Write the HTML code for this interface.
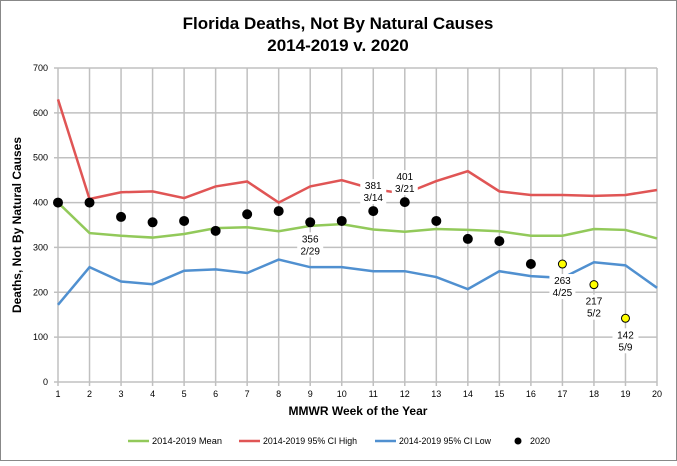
<!DOCTYPE html>
<html><head><meta charset="utf-8"><style>
body{margin:0;background:#fff;font-family:"Liberation Sans",sans-serif}
svg text{font-family:"Liberation Sans",sans-serif}
</style></head><body>
<svg id="c" width="677" height="461">
<rect x="0.5" y="0.5" width="676" height="460" fill="#fff" stroke="#888"/>
<text x="338" y="29" text-anchor="middle" font-size="17" font-weight="bold">Florida Deaths, Not By Natural Causes</text>
<text x="338" y="51" text-anchor="middle" font-size="17" font-weight="bold">2014-2019 v. 2020</text>
<text x="358" y="415" text-anchor="middle" font-size="12" font-weight="bold">MMWR Week of the Year</text>
<text transform="translate(21,225) rotate(-90)" text-anchor="middle" font-size="12" font-weight="bold">Deaths, Not By Natural Causes</text>
<g id="grid"></g><g id="series"></g><g id="legend"></g>
</svg>
<script>
const weeks=[1,2,3,4,5,6,7,8,9,10,11,12,13,14,15,16,17,18,19,20];
const yTicks=[0,100,200,300,400,500,600,700];
const meanVals=[400,332,326,322,330,343,345,336,348,352,340,335,341,339,336,326,326,341,339,320];
const highVals=[630,408,423,425,410,436,447,400,436,450,430,420,448,470,425,417,417,415,417,428];
const lowVals=[172,256,224,218,248,251,243,273,256,256,247,247,234,207,247,236,232,267,260,210];
const vals2020=[400,400,368,356,359,337,374,381,356,359,381,401,359,319,314,263,263,217,142];
const labelWeeks=[9,11,12,17,18,19];
const labelDates=["2/29","3/14","3/21","4/25","5/2","5/9"];
const labelAbove=[false,true,true,false,false,false];
const NS="http://www.w3.org/2000/svg";
const X=w=>58+(w-1)*(657-58)/19;
const Y=v=>382-v*(382-68)/700;
function mk(t,a,p){const e=document.createElementNS(NS,t);for(const k in a)e.setAttribute(k,a[k]);p.appendChild(e);return e;}
const g=document.getElementById('grid'),s=document.getElementById('series'),lg=document.getElementById('legend');
yTicks.forEach(v=>{
 const l=mk('line',{x1:54,x2:657,y1:Y(v),y2:Y(v),stroke:'#c0c0c0','stroke-width':1.5},g);
 
 
 const t=mk('text',{x:48,y:Y(v)+3,'text-anchor':'end','font-size':9},g);t.textContent=v;
 
 
});
weeks.forEach(w=>{
 const l=mk('line',{x1:X(w),x2:X(w),y1:68,y2:386,stroke:'#c0c0c0','stroke-width':1.5},g);
 
 
 const t=mk('text',{x:X(w),y:397,'text-anchor':'middle','font-size':9},g);t.textContent=w;
 
 
});
function line(vals,col,name){
 const p=mk('polyline',{points:vals.map((v,i)=>X(weeks[i])+','+Y(v)).join(' '),fill:'none',stroke:col,'stroke-width':2.5},s);
 
 
}
line(meanVals,'#92c95a','mean-line');
line(highVals,'#e05555','ci-high-line');
line(lowVals,'#5090d0','ci-low-line');
vals2020.forEach((v,i)=>{
 const c=mk('circle',{cx:X(weeks[i]),cy:Y(v),r:i>=16?4:4.5,fill:i>=16?'#ffff00':'#000',stroke:'#000','stroke-width':1},s);
 
 
});
labelWeeks.forEach((w,k)=>{
 const v=vals2020[w-1];const x=X(w);
 const y0=labelAbove[k]?Y(v)-22:Y(v)+20;
 const r=mk('rect',{x:x-13,y:y0-10,width:26,height:25,fill:'#fff'},s);
 
 
 const t=mk('text',{x:x,y:y0,'text-anchor':'middle','font-size':10},s);t.textContent=v;
 
 
 const d=mk('text',{x:x,y:y0+12,'text-anchor':'middle','font-size':10},s);d.textContent=labelDates[k];
 
 
});
const legItems=[['2014-2019 Mean','#92c95a',128,152,70],['2014-2019 95% CI High','#e05555',239,263,94],['2014-2019 95% CI Low','#5090d0',375,399,92]];
legItems.forEach(it=>{
 const l=mk('line',{x1:it[2],x2:it[2]+21,y1:441,y2:441,stroke:it[1],'stroke-width':2.5},lg);
 
 
 const t=mk('text',{x:it[3],y:444,'font-size':9,textLength:it[4],lengthAdjust:'spacingAndGlyphs'},lg);t.textContent=it[0];
 
 
});
const lc=mk('circle',{cx:518,cy:441,r:3.5,fill:'#000'},lg);


const lt=mk('text',{x:530,y:444,'font-size':9},lg);lt.textContent='2020';


</script>
</body></html>
